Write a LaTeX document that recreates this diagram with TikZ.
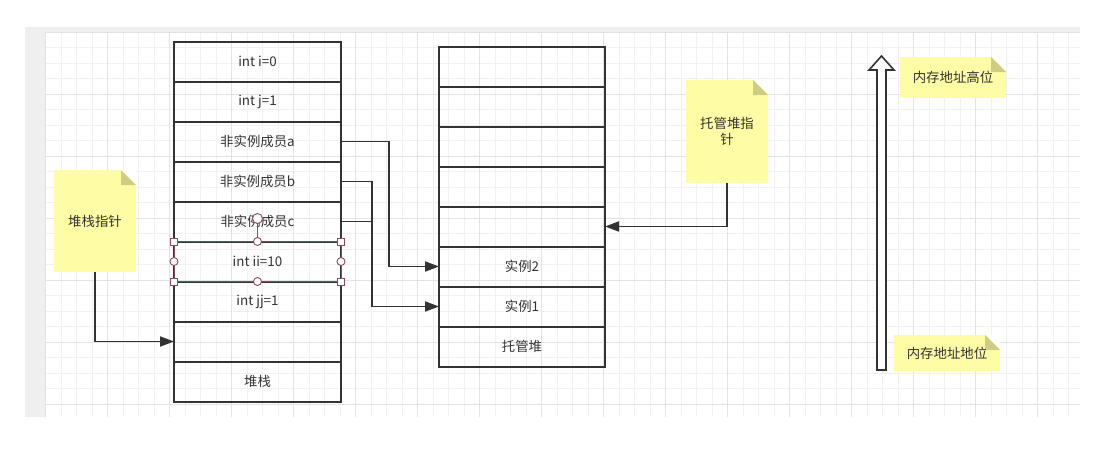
\documentclass[tikz,border=0pt]{standalone}
\usepackage{fontspec}
\setmainfont{Noto Sans CJK SC}
\usepackage{tikz}
\usetikzlibrary{arrows.meta,positioning,calc}
\definecolor{PoInk}{HTML}{333333}
\definecolor{PoNote}{HTML}{FFFCA6}
\definecolor{PoFold}{HTML}{CFCD84}
\definecolor{PoGrid}{HTML}{F1F1F1}
\definecolor{PoGridMajor}{HTML}{E3E3E3}
\definecolor{PoRail}{HTML}{EFEFEF}
\definecolor{PoHandle}{HTML}{8E4A5A}
\tikzset{
  cell/.style={draw=PoInk,line width=2pt,minimum width=167pt,minimum height=40pt,
    inner sep=0pt,outer sep=0pt,text=PoInk},
  note/.style={fill=PoNote,inner sep=0pt,outer sep=0pt,text=PoInk,align=center,
    path picture={
      \fill[white] (path picture bounding box.north east) -- ++(-15pt,0pt) -- ++(15pt,-15pt) -- cycle;
      \fill[PoFold] (path picture bounding box.north east) ++(-15pt,0pt) -- ++(0pt,-15pt) -- ++(15pt,0pt) -- cycle;}},
  link/.style={draw=PoInk,line width=1.8pt,-{Triangle[length=14pt,width=10pt]}},
  handle/.style={draw=PoHandle,fill=white,line width=0.9pt},
}
\begin{document}
\begin{tikzpicture}[x=1pt,y=-1pt,font=\fontsize{13.4}{16}\selectfont]
  \useasboundingbox (0,0) rectangle (1099,466);
  % canvas
  \fill[PoRail] (25,27) rectangle (1080,417);
  \fill[white] (45.5,32) rectangle (1080,417);
  \draw[PoGrid,line width=0.8pt,shift={(45.5,32)},step=15.5pt] (0,385) grid (1034.5,0);
  \draw[PoGridMajor,line width=0.8pt,shift={(45.5,32)},step=62pt] (0,385) grid (1034.5,0);

  % stack
  \node[cell] (sI) at (257.5,61.5) {int i=0};
  \node[cell,below=0pt of sI] (sJ) {int j=1};
  \node[cell,below=0pt of sJ] (sA) {非实例成员a};
  \node[cell,below=0pt of sA] (sB) {非实例成员b};
  \node[cell,below=0pt of sB] (sC) {非实例成员c};
  \node[cell,below=0pt of sC] (sII) {int ii=10};
  \node[cell,below=0pt of sII] (sJJ) {int jj=1};
  \node[cell,below=0pt of sJJ] (sTop) {};
  \node[cell,below=0pt of sTop] (sBase) {堆栈};

  % managed heap
  \node[cell,minimum width=166pt] (h1) at (522,66.5) {};
  \node[cell,minimum width=166pt,below=0pt of h1] (h2) {};
  \node[cell,minimum width=166pt,below=0pt of h2] (h3) {};
  \node[cell,minimum width=166pt,below=0pt of h3] (h4) {};
  \node[cell,minimum width=166pt,below=0pt of h4] (h5) {};
  \node[cell,minimum width=166pt,below=0pt of h5] (hInst2) {实例2};
  \node[cell,minimum width=166pt,below=0pt of hInst2] (hInst1) {实例1};
  \node[cell,minimum width=166pt,below=0pt of hInst1] (hBase) {托管堆};

  % notes
  \node[note,minimum width=82pt,minimum height=102pt] (stackPtr) at (95,221) {堆栈指针};
  \node[note,minimum width=82pt,minimum height=103pt] (heapPtr) at (727,131.5) {托管堆指\\针};
  \node[note,minimum width=106pt,minimum height=41pt] (addrHi) at (953,77.5) {内存地址高位};
  \node[note,minimum width=106pt,minimum height=36pt] (addrLo) at (947,353) {内存地址地位};

  % references
  \coordinate (joinB) at (372,0);
  \draw[link] (sA.east) -- ++(48,0) |- (hInst2.west);
  \draw[link] (sB.east) -| (joinB |- hInst1.west) -- (hInst1.west);
  \draw[PoInk,line width=1.8pt] (sC.east) -- (sC.east -| joinB);
  \draw[link] (heapPtr.south) |- (h5.east);
  \draw[link] (stackPtr.south) |- (sTop.west);

  % address direction
  \coordinate (addrLow) at (881.5,370);
  \coordinate (addrHigh) at (881.5,56);
  \draw[PoInk,fill=white,line width=1.6pt,line join=miter]
    (877,370) -- (877,70) -- (869,70) -- (addrHigh) -- (894,70) -- (886,70) -- (886,370) -- cycle;

  % selection of int ii=10
  \draw[PoHandle,line width=1pt] (sII.north west) rectangle (sII.south east);
  \coordinate (rot) at ($(sII.north)+(0,-23)$);
  \draw[PoHandle,line width=1pt] (sII.north) -- (rot);
  \path[handle] (sII.north west) ++(-3.5,-3.5) rectangle ++(7,7)
    (sII.north east) ++(-3.5,-3.5) rectangle ++(7,7)
    (sII.south west) ++(-3.5,-3.5) rectangle ++(7,7)
    (sII.south east) ++(-3.5,-3.5) rectangle ++(7,7);
  \path[handle] (sII.north) circle[radius=4pt] (sII.south) circle[radius=4pt]
    (sII.west) circle[radius=4pt] (sII.east) circle[radius=4pt]
    (rot) circle[radius=5pt];
\end{tikzpicture}
\end{document}
